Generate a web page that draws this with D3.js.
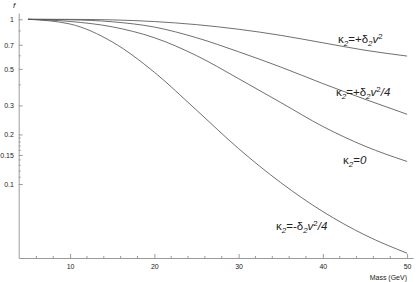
<!DOCTYPE html>
<html>
<head>
<meta charset="utf-8">
<script src="https://cdn.jsdelivr.net/npm/d3@7"></script>
<style>
  body { margin: 0; background: #fff; }
  text { font-family: "Liberation Sans", Arial, sans-serif; fill: #222; }
</style>
</head>
<body>
<div id="chart"></div>
<script>
const masses = [5, 10, 15, 20, 25, 30, 35, 40, 45, 50];

// f for each kappa_2 choice
const fPlusFull = [1, 0.999, 0.992, 0.969, 0.928, 0.870, 0.799, 0.720, 0.649, 0.598];
const fPlusQuarter = [1, 0.993, 0.966, 0.897, 0.773, 0.635, 0.513, 0.407, 0.327, 0.265];
const fZero = [1, 0.970, 0.900, 0.773, 0.602, 0.436, 0.3125, 0.2235, 0.1697, 0.137];
const fMinusQuarter = [1, 0.936, 0.729, 0.477, 0.281, 0.164, 0.102, 0.068, 0.049, 0.038];

const xMajor = [10, 20, 30, 40, 50];
const xMinor = [6, 8, 12, 14, 16, 18, 22, 24, 26, 28, 32, 34, 36, 38, 42, 44, 46, 48];
const yMajor = [1, 0.7, 0.5, 0.3, 0.2, 0.15, 0.1];
const yMinor = [0.85, 0.6, 0.4, 0.19, 0.18, 0.17, 0.16, 0.14, 0.13, 0.12, 0.11];

const width = 416;
const height = 282;

const svg = d3.select('#chart')
  .append('svg')
  .attr('width', width)
  .attr('height', height);

// scales
const x = d3.scaleLinear()
  .domain([3.9, 50.7])
  .range([18.7, 413]);

const y = d3.scaleLog()
  .domain([0.03554, 1.092])
  .range([258, 13]);

const axisColor = '#9a9a9a';

// x axis, ticks pointing inward
const axisX = d3.axisBottom(x)
  .tickValues(xMajor)
  .tickSizeInner(-4)
  .tickSizeOuter(0)
  .tickPadding(6);

const gx = svg.append('g')
  .attr('transform', `translate(0, ${y.range()[0]})`)
  .call(axisX);
gx.select('.domain').attr('stroke', axisColor);
gx.selectAll('.tick line').attr('stroke', axisColor);
gx.selectAll('.tick text')
  .attr('font-size', 7)
  .attr('font-family', '"Liberation Sans", Arial, sans-serif')
  .attr('fill', '#222');

gx.selectAll('.minor')
  .data(xMinor)
  .enter()
  .append('line')
  .attr('x1', d => x(d))
  .attr('x2', d => x(d))
  .attr('y1', 0)
  .attr('y2', -2)
  .attr('stroke', axisColor);

// y axis
const axisY = d3.axisLeft(y)
  .tickValues(yMajor)
  .tickFormat(d => String(d))
  .tickSizeInner(-4)
  .tickSizeOuter(0)
  .tickPadding(4.8);

const gy = svg.append('g')
  .attr('transform', `translate(${x.range()[0]}, 0)`)
  .call(axisY);
gy.select('.domain').attr('stroke', axisColor);
gy.selectAll('.tick line').attr('stroke', axisColor);
gy.selectAll('.tick text')
  .attr('font-size', 7)
  .attr('font-family', '"Liberation Sans", Arial, sans-serif')
  .attr('fill', '#222');

gy.selectAll('.minor')
  .data(yMinor)
  .enter()
  .append('line')
  .attr('x1', 0)
  .attr('x2', 2)
  .attr('y1', d => y(d))
  .attr('y2', d => y(d))
  .attr('stroke', axisColor);

// axis titles
svg.append('text')
  .attr('x', 13)
  .attr('y', 8)
  .attr('font-size', 8)
  .attr('font-style', 'italic')
  .text('f');

svg.append('text')
  .attr('x', 407)
  .attr('y', 280)
  .attr('text-anchor', 'end')
  .attr('font-size', 7)
  .text('Mass (GeV)');

// curves
const line = d3.line()
  .x((d, i) => x(masses[i]))
  .y(d => y(d))
  .curve(d3.curveMonotoneX);

const series = [fPlusFull, fPlusQuarter, fZero, fMinusQuarter];
svg.append('g')
  .selectAll('path')
  .data(series)
  .enter()
  .append('path')
  .attr('fill', 'none')
  .attr('stroke', '#555')
  .attr('stroke-width', 0.85)
  .attr('d', d => line(d));

// curve labels
const labels = [
  { x: 338, y: 43, parts: [['κ', ''], ['2', 'sub'], ['=+δ', ''], ['2', 'sub'], ['v', 'it'], ['2', 'sup']] },
  { x: 336, y: 96, parts: [['κ', ''], ['2', 'sub'], ['=+δ', ''], ['2', 'sub'], ['v', 'it'], ['2', 'sup'], ['/4', 'it']] },
  { x: 343, y: 164, parts: [['κ', ''], ['2', 'sub'], ['=', ''], ['0', 'it']] },
  { x: 276, y: 230, parts: [['κ', ''], ['2', 'sub'], ['=-δ', ''], ['2', 'sub'], ['v', 'it'], ['2', 'sup'], ['/4', 'it']] }
];

const shifts = { sub: 2.5, sup: -4.5 };

labels.forEach(l => {
  const t = svg.append('text')
    .attr('x', l.x)
    .attr('y', l.y)
    .attr('font-size', 11.5);
  let shift = 0;
  l.parts.forEach(p => {
    const own = shifts[p[1]] || 0;
    const ts = t.append('tspan')
      .text(p[0])
      .attr('dy', own - shift);
    shift = own;
    if (p[1] === 'sub') ts.attr('font-size', 8).attr('font-style', 'italic');
    if (p[1] === 'sup') ts.attr('font-size', 8);
    if (p[1] === 'it') ts.attr('font-style', 'italic');
  });
});
</script>
</body>
</html>
